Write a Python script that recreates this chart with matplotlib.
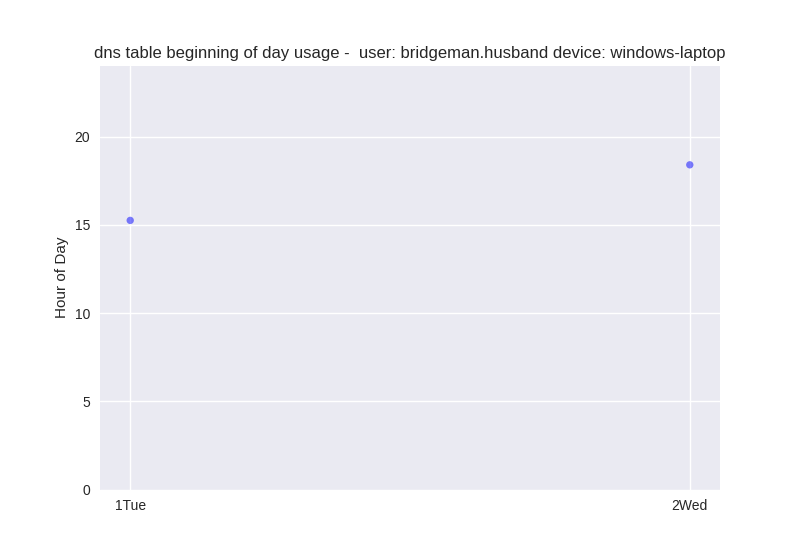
import matplotlib
matplotlib.use("Agg")
import matplotlib.pyplot as plt

days = ['1Tue', '2Wed']
start_hour = [15.25, 18.4]

plt.style.use('seaborn-v0_8')
plt.rcParams['font.family'] = ['Liberation Sans', 'DejaVu Sans']

fig = plt.figure(figsize=(8, 5.5), dpi=100)
ax = fig.add_subplot(111)
ax.scatter(days, start_hour, color='blue', alpha=0.5, s=28, edgecolors='none')
ax.margins(x=0.054)
ax.set_ylim(0, 24)
ax.set_yticks([0, 5, 10, 15, 20])
ax.set_ylabel('Hour of Day')
ax.set_title('dns table beginning of day usage -  user: bridgeman.husband device: windows-laptop')

fig.savefig('out.png')
